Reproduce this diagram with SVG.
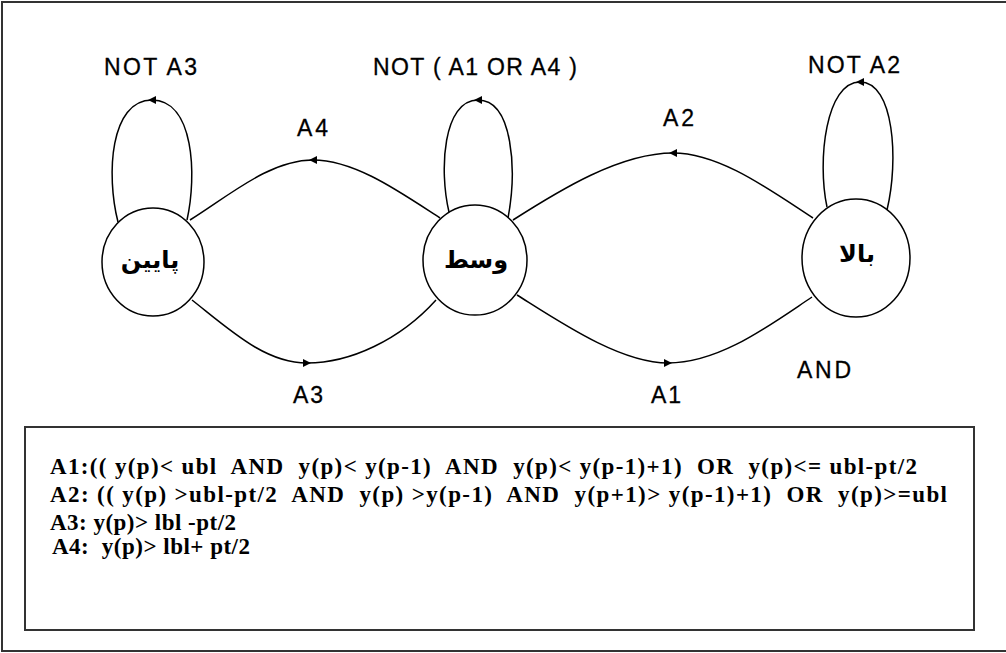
<svg xmlns="http://www.w3.org/2000/svg" width="1006" height="653" viewBox="0 0 1006 653">
<defs>
<marker id="arr" viewBox="0 0 10 10" refX="5" refY="5" markerWidth="9" markerHeight="8" markerUnits="userSpaceOnUse" orient="auto">
<path d="M0,0 L10,5 L0,10 Z" fill="#000"/>
</marker>
<style>
.node{fill:#fff;stroke:#000;stroke-width:1.5}
.edge{fill:none;stroke:#000;stroke-width:1.5;marker-mid:url(#arr)}
.lbl{font-family:"Liberation Sans",Arial,sans-serif;font-size:23px;fill:#000;stroke:#000;stroke-width:0.3}
.fa{font-family:"DejaVu Sans",sans-serif;font-size:24px;font-weight:bold;fill:#000}
.cond{font-family:"Liberation Serif","Times New Roman",serif;font-size:23px;font-weight:bold;fill:#000}
</style>
</defs>
<rect width="1006" height="653" fill="#fff"/>
<path d="M1006,2 H2 V651 H1006" fill="none" stroke="#333" stroke-width="2"/>
<g id="connectors">
<path class="edge" d="M187,220 C197,175 194,100 152,100 C110,100 106,175 118,222"/>
<path class="edge" d="M508,218 C517,170 513,100 478,100 C443,100 439,170 449,212"/>
<path class="edge" d="M887,210 C899,160 894,82 860,82 C826,82 817,160 827,207"/>
<path class="edge" d="M440,218 C400,192 355,160 313,160 C270,160 230,195 190,220"/>
<path class="edge" d="M813,218 C770,190 720,153 673,153 C620,153 560,190 513,220"/>
<path class="edge" d="M192,300 C230,330 265,363 307,363 C350,363 400,340 436,300"/>
<path class="edge" d="M517,295 C560,322 620,363 668,363 C720,363 770,325 812,297"/>
</g>
<g id="node-bottom">
<ellipse class="node" cx="153" cy="262" rx="51" ry="54"/>
<text class="fa" x="150" y="268" text-anchor="middle" direction="rtl">پایین</text>
</g>
<g id="node-middle">
<ellipse class="node" cx="475" cy="260" rx="52" ry="55"/>
<text class="fa" x="476" y="268" text-anchor="middle" direction="rtl">وسط</text>
</g>
<g id="node-top">
<ellipse class="node" cx="856" cy="258" rx="54" ry="59"/>
<text class="fa" x="857" y="262" text-anchor="middle" direction="rtl">بالا</text>
</g>
<g id="labels">
<text class="lbl" x="104" y="75" textLength="93" lengthAdjust="spacing">NOT A3</text>
<text class="lbl" x="373" y="75" textLength="204" lengthAdjust="spacing">NOT ( A1 OR A4 )</text>
<text class="lbl" x="808" y="73" textLength="92" lengthAdjust="spacing">NOT A2</text>
<text class="lbl" x="297" y="136" textLength="31" lengthAdjust="spacing">A4</text>
<text class="lbl" x="663" y="126" textLength="31" lengthAdjust="spacing">A2</text>
<text class="lbl" x="293" y="403" textLength="30" lengthAdjust="spacing">A3</text>
<text class="lbl" x="651" y="403" textLength="30" lengthAdjust="spacing">A1</text>
<text class="lbl" x="797" y="378" textLength="54" lengthAdjust="spacing">AND</text>
</g>
<g id="conditions">
<rect x="25" y="427" width="949" height="203" fill="#fff" stroke="#333" stroke-width="2"/>
<text class="cond" x="50" y="474" textLength="867" lengthAdjust="spacing" xml:space="preserve">A1:(( y(p)&lt; ubl  AND  y(p)&lt; y(p-1)  AND  y(p)&lt; y(p-1)+1)  OR  y(p)&lt;= ubl-pt/2</text>
<text class="cond" x="50" y="502" textLength="897" lengthAdjust="spacing" xml:space="preserve">A2: (( y(p) &gt;ubl-pt/2  AND  y(p) &gt;y(p-1)  AND  y(p+1)&gt; y(p-1)+1)  OR  y(p)&gt;=ubl</text>
<text class="cond" x="50" y="530" textLength="186" lengthAdjust="spacing" xml:space="preserve">A3: y(p)&gt; lbl -pt/2</text>
<text class="cond" x="52" y="554" textLength="198" lengthAdjust="spacing" xml:space="preserve">A4:  y(p)&gt; lbl+ pt/2</text>
</g>
</svg>
